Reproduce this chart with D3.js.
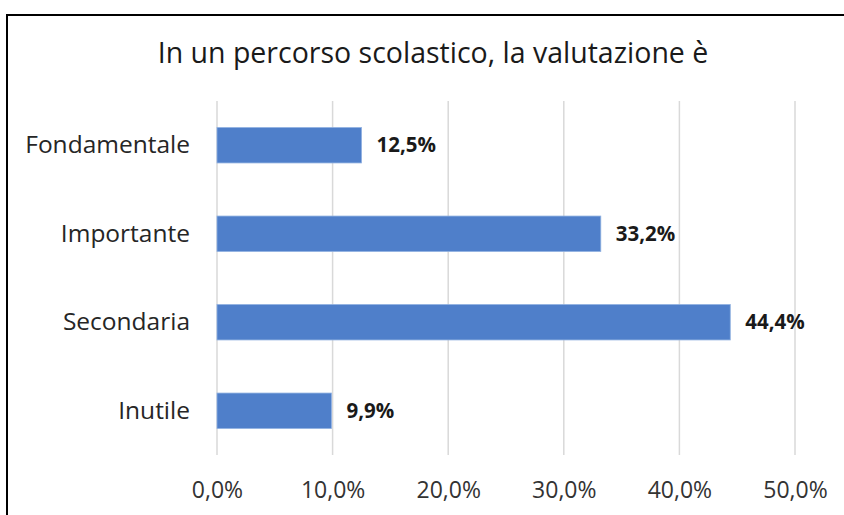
<!DOCTYPE html>
<html>
<head>
<meta charset="utf-8">
<script src="https://cdn.jsdelivr.net/npm/d3@7"></script>
<style>
  body { margin: 0; background: #fff; }
  svg text { font-family: "Open Sans", sans-serif; }
</style>
</head>
<body>
<div id="chart"></div>
<script>
// data
const categories = ["Fondamentale", "Importante", "Secondaria", "Inutile"]
const values = [12.5, 33.2, 44.4, 9.9]
const ticks = [0, 10, 20, 30, 40, 50]
const title = "In un percorso scolastico, la valutazione è"

var width = 844
var height = 515
var margin = { left: 217, right: 49, top: 101, bottom: 60 }

const fmt = v => v.toFixed(1).replace(".", ",") + "%"

const svg = d3.select("#chart").append("svg")
  .attr("width", width)
  .attr("height", height)

// frame
svg.append("rect")
  .attr("x", 7).attr("y", 15)
  .attr("width", 900).attr("height", 600)
  .attr("fill", "#fff")
  .attr("stroke", "#000")
  .attr("stroke-width", 2)

svg.append("text")
  .attr("x", 433)
  .attr("y", 63)
  .attr("text-anchor", "middle")
  .style("font-size", "28.5px")
  .attr("fill", "#1a1a1a")
  .text(title)

const xScale = d3.scaleLinear()
  .domain([0, 50])
  .range([margin.left, width - margin.right])

const yScale = d3.scaleBand()
  .domain(categories)
  .range([margin.top, height - margin.bottom])
  .paddingInner(0.6)
  .paddingOuter(0.3)

// gridlines
svg.append("g")
  .selectAll("line")
  .data(ticks)
  .enter().append("line")
  .attr("x1", d => xScale(d))
  .attr("x2", d => xScale(d))
  .attr("y1", margin.top)
  .attr("y2", height - margin.bottom)
  .attr("stroke", "#d9d9d9")
  .attr("stroke-width", 1.5)

// x axis tick labels
const xAxis = d3.axisBottom(xScale)
  .tickValues(ticks)
  .tickFormat(fmt)
  .tickSize(0)
  .tickPadding(27)

svg.append("g")
  .attr("transform", "translate(0," + (height - margin.bottom) + ")")
  .call(xAxis)
  .call(g => g.select(".domain").remove())
  .selectAll("text")
  .style("font-size", "23px")
  .style("font-family", "'Open Sans', sans-serif")
  .attr("fill", "#333")

// y axis labels
const yAxis = d3.axisLeft(yScale)
  .tickSize(0)
  .tickPadding(27)

svg.append("g")
  .attr("transform", "translate(" + margin.left + ",0)")
  .call(yAxis)
  .call(g => g.select(".domain").remove())
  .selectAll("text")
  .style("font-size", "24.5px")
  .style("font-family", "'Open Sans', sans-serif")
  .attr("fill", "#262626")

// bars
svg.append("g")
  .selectAll("rect")
  .data(values)
  .enter().append("rect")
  .attr("x", xScale(0))
  .attr("y", (d, i) => yScale(categories[i]))
  .attr("width", d => xScale(d) - xScale(0))
  .attr("height", yScale.bandwidth())
  .attr("fill", "#4f7fca")
  .attr("stroke", "#8fb0e0")
  .attr("stroke-width", 0.8)

// value labels
svg.append("g")
  .selectAll("text")
  .data(values)
  .enter().append("text")
  .attr("x", d => xScale(d) + 15)
  .attr("y", (d, i) => yScale(categories[i]) + yScale.bandwidth() / 2)
  .attr("dy", "0.35em")
  .style("font-size", "20.5px")
  .style("font-weight", "bold")
  .attr("fill", "#1a1a1a")
  .text(d => fmt(d))
</script>
</body>
</html>
